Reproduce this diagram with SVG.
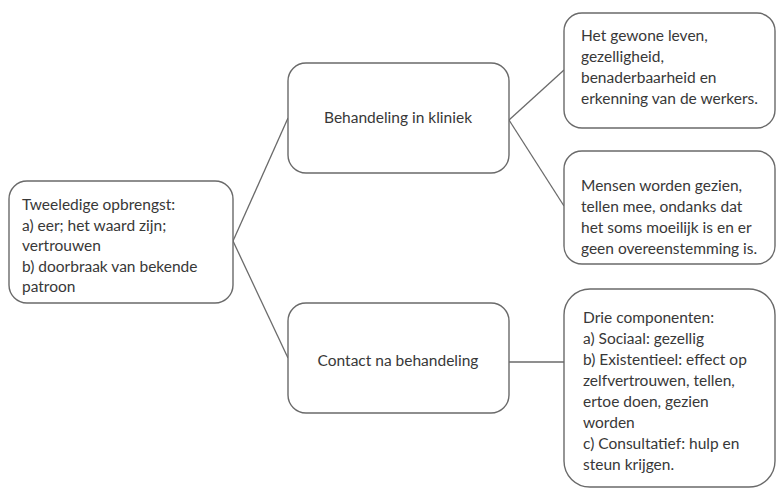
<svg xmlns="http://www.w3.org/2000/svg" width="777" height="491" viewBox="0 0 777 491">
<style>
.box{fill:#ffffff;stroke:#6a6a6a;stroke-width:1.4}
.t{font-family:Lato,"Liberation Sans",sans-serif;font-size:15.5px;fill:#383838}
.c{text-anchor:middle}
.edge{fill:none;stroke:#6a6a6a;stroke-width:1.3}
</style>
<rect width="777" height="491" fill="#ffffff"/>
<g id="connectors">
<line class="edge" x1="233" y1="241" x2="288" y2="118"/>
<line class="edge" x1="233" y1="241" x2="288" y2="358"/>
<line class="edge" x1="509" y1="120" x2="564" y2="70"/>
<line class="edge" x1="509" y1="120" x2="564" y2="206"/>
<line class="edge" x1="509" y1="362" x2="564" y2="362"/>
</g>
<g id="node-opbrengst">
<rect class="box" x="9" y="181" width="224" height="122" rx="18"/>
<text class="t"><tspan x="22" y="210">Tweeledige opbrengst:</tspan><tspan x="22" y="231">a) eer; het waard zijn;</tspan><tspan x="22" y="251">vertrouwen</tspan><tspan x="22" y="272">b) doorbraak van bekende</tspan><tspan x="22" y="292">patroon</tspan></text>
</g>
<g id="node-kliniek">
<rect class="box" x="288" y="63" width="221" height="110" rx="18"/>
<text class="t c" x="398" y="123">Behandeling in kliniek</text>
</g>
<g id="node-contact">
<rect class="box" x="288" y="303" width="221" height="110" rx="18"/>
<text class="t c" x="398" y="366">Contact na behandeling</text>
</g>
<g id="node-gewone">
<rect class="box" x="564" y="13" width="211" height="115" rx="18"/>
<text class="t"><tspan x="581" y="41">Het gewone leven,</tspan><tspan x="581" y="62">gezelligheid,</tspan><tspan x="581" y="83">benaderbaarheid en</tspan><tspan x="581" y="104">erkenning van de werkers.</tspan></text>
</g>
<g id="node-gezien">
<rect class="box" x="564" y="151" width="211" height="113" rx="18"/>
<text class="t"><tspan x="581" y="191">Mensen worden gezien,</tspan><tspan x="581" y="212">tellen mee, ondanks dat</tspan><tspan x="581" y="233">het soms moeilijk is en er</tspan><tspan x="581" y="254">geen overeenstemming is.</tspan></text>
</g>
<g id="node-componenten">
<rect class="box" x="564" y="289" width="211" height="198" rx="26"/>
<text class="t"><tspan x="583" y="323">Drie componenten:</tspan><tspan x="583" y="344">a) Sociaal: gezellig</tspan><tspan x="583" y="365">b) Existentieel: effect op</tspan><tspan x="583" y="386">zelfvertrouwen, tellen,</tspan><tspan x="583" y="407">ertoe doen, gezien</tspan><tspan x="583" y="428">worden</tspan><tspan x="583" y="449">c) Consultatief: hulp en</tspan><tspan x="583" y="470">steun krijgen.</tspan></text>
</g>
</svg>
